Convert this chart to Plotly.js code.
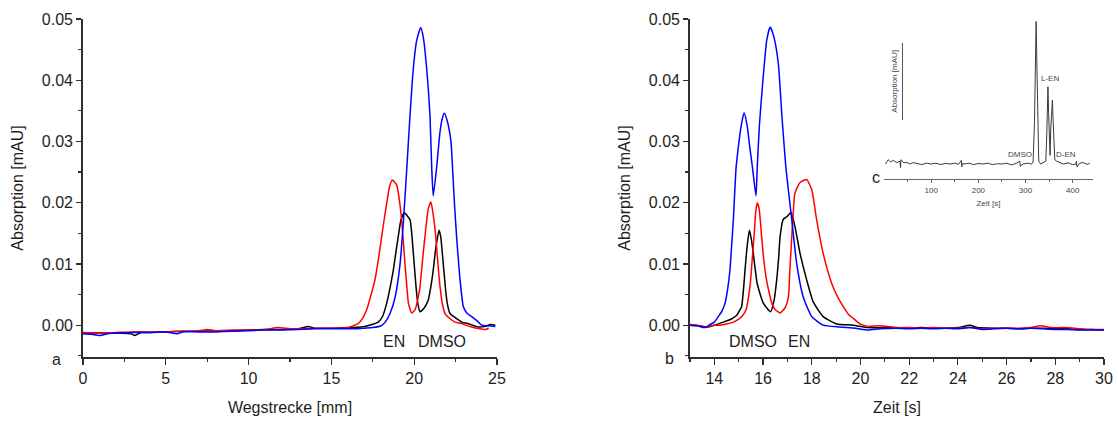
<!DOCTYPE html>
<html>
<head>
<meta charset="utf-8">
<script src="https://cdn.plot.ly/plotly-3.0.1.min.js"></script>
<style>html,body{margin:0;padding:0;background:#fff;}#chart{width:1118px;height:423px;}</style>
</head>
<body>
<div id="chart"></div>
<script>
// ---------- Panel a: Absorption vs Wegstrecke [mm] ----------
const aBlueX = [0,0.5,1.0,1.5,2,3,4,5,5.7,6,7,8,9,10,11,12,13,14,15,16,16.5,17,17.5,18,18.25,18.54,18.85,19.15,19.35,19.55,19.75,19.95,20.15,20.39,20.55,20.75,20.95,21.06,21.15,21.35,21.56,21.7,21.82,22.0,22.22,22.32,22.45,22.56,22.77,22.97,23.2,23.47,23.8,24.08,24.5,24.9];
const aBlueY = [-0.0014,-0.0015,-0.0017,-0.0014,-0.0013,-0.0012,-0.0012,-0.0011,-0.0014,-0.0011,-0.0011,-0.0011,-0.0010,-0.0009,-0.0008,-0.0008,-0.0007,-0.0006,-0.0006,-0.0006,-0.0006,-0.0005,-0.0004,-0.0001,0.0005,0.0019,0.0046,0.0101,0.0170,0.0255,0.0344,0.0420,0.0465,0.0486,0.0470,0.0420,0.0344,0.0256,0.0211,0.0256,0.0316,0.0338,0.0346,0.0333,0.0300,0.0254,0.0190,0.0145,0.0074,0.0030,0.0019,0.0014,0.0007,0.0000,-0.0001,-0.0002];
const aRedX = [0,1,2,3,4,5,6,7,7.5,8,9,10,11,11.8,12.5,13,14,15,16,16.63,16.9,17.13,17.4,17.63,17.85,18.04,18.2,18.34,18.5,18.68,18.94,19.1,19.24,19.44,19.55,19.65,19.85,20.05,20.2,20.35,20.5,20.65,20.85,21.01,21.15,21.3,21.45,21.56,21.7,21.86,22.1,22.46,22.8,23.1,23.47,23.8,24.3,24.5];
const aRedY = [-0.0012,-0.0013,-0.0012,-0.0011,-0.0011,-0.0011,-0.0010,-0.0009,-0.0007,-0.0009,-0.0008,-0.0008,-0.0007,-0.0004,-0.0006,-0.0006,-0.0005,-0.0005,-0.0004,0.0003,0.0012,0.0025,0.0050,0.0074,0.0110,0.0145,0.0175,0.0199,0.0225,0.0237,0.0229,0.0205,0.0172,0.0101,0.0065,0.0036,0.0020,0.0025,0.0040,0.0063,0.0105,0.0145,0.0190,0.0201,0.0180,0.0145,0.0095,0.0063,0.0035,0.0019,0.0012,0.0005,0.0003,0.0000,-0.0003,-0.0005,-0.0007,-0.0005];
const aBlackX = [0,1,2,3,3.1,3.5,4,5,6,7,8,9,10,11,12,13,13.6,14,15,16,16.8,17.3,17.83,18.1,18.34,18.55,18.74,18.9,19.04,19.2,19.4,19.6,19.75,19.85,19.95,20.11,20.22,20.35,20.6,20.85,21.0,21.15,21.3,21.5,21.6,21.7,21.9,22.0,22.16,22.5,22.87,23.3,23.87,24.3,24.6,24.9];
const aBlackY = [-0.0013,-0.0013,-0.0013,-0.0015,-0.0017,-0.0012,-0.0012,-0.0011,-0.0010,-0.0010,-0.0009,-0.0009,-0.0008,-0.0007,-0.0007,-0.0006,-0.0002,-0.0005,-0.0005,-0.0004,-0.0003,0.0000,0.0005,0.0015,0.0036,0.0062,0.0090,0.0120,0.0145,0.0172,0.0183,0.0178,0.0172,0.0150,0.0117,0.0063,0.0035,0.0022,0.0028,0.0041,0.0062,0.0090,0.0125,0.0155,0.0145,0.0117,0.0057,0.0035,0.0019,0.0012,0.0005,0.0002,-0.0003,-0.0002,0.0001,0.0000];

// ---------- Panel b: Absorption vs Zeit [s] ----------
const bBlueX = [13.0,13.3,13.6,13.82,14.0,14.16,14.3,14.44,14.55,14.64,14.71,14.78,14.89,14.98,15.1,15.22,15.35,15.46,15.57,15.71,15.76,15.85,15.99,16.15,16.29,16.45,16.63,16.77,16.94,17.18,17.38,17.65,18.0,18.47,19.16,19.8,20.3,20.8,21.5,22,22.5,23,23.5,24,24.5,25,25.5,26,26.5,27,27.5,28,28.5,29,29.5,30];
const bBlueY = [0.0000,-0.0001,-0.0004,0.0001,0.0005,0.0014,0.0022,0.0036,0.0060,0.0090,0.0130,0.0172,0.0256,0.0289,0.0325,0.0347,0.0325,0.0289,0.0256,0.0211,0.0256,0.0327,0.0398,0.0465,0.0487,0.0470,0.0426,0.0344,0.0256,0.0172,0.0101,0.0046,0.0014,0.0000,-0.0003,-0.0005,-0.0008,-0.0006,-0.0005,-0.0006,-0.0005,-0.0006,-0.0005,-0.0006,-0.0004,-0.0007,-0.0006,-0.0005,-0.0006,-0.0005,-0.0006,-0.0007,-0.0007,-0.0008,-0.0008,-0.0008];
const bRedX = [13.0,13.3,13.55,13.8,14.0,14.23,14.5,14.78,15.0,15.15,15.3,15.4,15.49,15.56,15.63,15.7,15.76,15.84,15.94,16.02,16.12,16.24,16.36,16.5,16.7,16.9,17.04,17.1,17.18,17.25,17.31,17.52,17.79,18.0,18.2,18.47,18.82,19.05,19.3,19.5,19.71,19.98,20.3,20.8,21.5,22,22.5,23,23.5,24,24.5,25,25.5,26,26.5,27,27.4,27.8,28.3,28.8,29.3,29.8,30];
const bRedY = [0.0001,0.0000,-0.0003,-0.0002,0.0000,0.0000,0.0002,0.0005,0.0010,0.0015,0.0025,0.0045,0.0074,0.0110,0.0145,0.0185,0.0200,0.0190,0.0145,0.0110,0.0079,0.0055,0.0036,0.0025,0.0020,0.0028,0.0046,0.0090,0.0145,0.0190,0.0216,0.0233,0.0238,0.0221,0.0172,0.0117,0.0068,0.0047,0.0030,0.0018,0.0011,0.0002,-0.0002,-0.0001,-0.0004,-0.0004,-0.0005,-0.0004,-0.0005,-0.0005,-0.0004,-0.0006,-0.0005,-0.0005,-0.0005,-0.0004,-0.0001,-0.0004,-0.0004,-0.0005,-0.0007,-0.0007,-0.0007];
const bBlackX = [13.0,13.4,13.69,14.0,14.37,14.7,14.92,15.05,15.12,15.2,15.26,15.35,15.44,15.52,15.6,15.76,16.01,16.31,16.45,16.56,16.64,16.7,16.83,16.97,17.15,17.31,17.52,17.79,18.06,18.47,19.02,19.7,20.3,21,21.5,22,22.5,23,23.5,24,24.5,24.8,25.5,26,26.5,27,27.5,28,28.5,29,29.5,30];
const bBlackY = [0.0000,-0.0001,-0.0003,0.0000,0.0005,0.0010,0.0016,0.0025,0.0030,0.0060,0.0090,0.0130,0.0155,0.0140,0.0117,0.0068,0.0036,0.0022,0.0040,0.0074,0.0110,0.0145,0.0173,0.0177,0.0184,0.0161,0.0117,0.0074,0.0038,0.0014,0.0002,0.0000,-0.0004,-0.0004,-0.0005,-0.0005,-0.0004,-0.0005,-0.0005,-0.0004,0.0000,-0.0004,-0.0005,-0.0005,-0.0006,-0.0005,-0.0005,-0.0006,-0.0006,-0.0007,-0.0007,-0.0008];

// ---------- Inset c: Absorption (relative) vs Zeit [s] ----------
const cT = [3,6,9,14,20,27,34,35,36,42,48,55,62,70,80,90,100,110,120,130,140,150,158,164,165,166,172,180,190,200,210,220,230,240,250,260,270,280,288,289,295,305,312,316,319,321,322.5,324,326,328,332,338,343,345,346.5,347.5,349,351,352,353.5,355.5,357,358.5,360,362,366,372,380,390,400,407,408,409,415,422,430,436];
const cA = [0.000,0.020,0.030,0.015,0.025,0.010,0.020,-0.025,0.030,0.008,0.012,0.000,0.010,0.004,-0.004,0.006,0.000,0.006,-0.004,0.004,0.000,0.006,-0.002,0.025,-0.020,0.004,0.000,0.006,-0.004,0.004,0.000,0.006,-0.004,0.002,0.000,0.006,-0.006,0.004,0.020,-0.015,0.000,0.006,0.000,0.010,0.30,0.85,0.99,0.70,0.15,0.02,0.000,0.010,0.020,0.20,0.50,0.537,0.35,0.08,0.06,0.25,0.42,0.444,0.30,0.10,0.03,0.020,0.010,0.000,0.008,-0.004,0.000,0.020,-0.020,0.006,0.010,-0.002,0.004];

// Tick labels
const yTickVals = [0.00,0.01,0.02,0.03,0.04,0.05];
const aXTicks = [0,5,10,15,20,25];
const bXTicks = [14,16,18,20,22,24,26,28,30];
const cXTicks = [100,200,300,400];

const W = 1118, H = 423;
const px = v => v / W;
const py = v => 1 - v / H;
const FONT = 'Liberation Sans, Arial, sans-serif';
const TXT = '#1e1e1e';
const AX = '#2e2e2e';

function tr(x, y, color, xa, ya) {
  return {x: x, y: y, type: 'scatter', mode: 'lines', xaxis: xa, yaxis: ya,
          line: {color: color, width: 1.5, shape: 'spline', smoothing: 0.5},
          hoverinfo: 'skip', showlegend: false};
}
const traces = [
  tr(aBlackX, aBlackY, '#000000', 'x', 'y'),
  tr(aRedX, aRedY, '#ff0000', 'x', 'y'),
  tr(aBlueX, aBlueY, '#0000ff', 'x', 'y'),
  tr(bBlackX, bBlackY, '#000000', 'x2', 'y2'),
  tr(bRedX, bRedY, '#ff0000', 'x2', 'y2'),
  tr(bBlueX, bBlueY, '#0000ff', 'x2', 'y2'),
  {x: cT, y: cA, type: 'scatter', mode: 'lines', xaxis: 'x3', yaxis: 'y3',
   line: {color: '#3a3a3a', width: 1}, hoverinfo: 'skip', showlegend: false},
  // empty trace so that the inset's scale-bar axis gets its own subplot
  {x: [], y: [], type: 'scatter', mode: 'lines', xaxis: 'x4', yaxis: 'y4', hoverinfo: 'skip', showlegend: false}
];

const yRange = [-0.0052, 0.05];
const yDom = [py(357), py(19)];
function yAxis(anchor) {
  return {
    domain: yDom, range: yRange, anchor: anchor,
    tickmode: 'array', tickvals: yTickVals, tickformat: '.2f',
    ticks: 'outside', ticklen: 5, tickwidth: 1.2, tickcolor: AX,
    minor: {dtick: 0.005, tick0: 0, ticks: 'outside', ticklen: 3, tickwidth: 1.2, tickcolor: AX, showgrid: false},
    showline: true, linecolor: AX, linewidth: 1.8,
    showgrid: false, zeroline: false,
    tickfont: {family: FONT, size: 16, color: TXT},
    title: {text: 'Absorption [mAU]', font: {family: FONT, size: 16, color: TXT}, standoff: 14}
  };
}
function xAxis(dom, range, tickvals, minorDtick, title, anchor) {
  return {
    domain: dom, range: range, anchor: anchor,
    tickmode: 'array', tickvals: tickvals,
    ticks: 'outside', ticklen: 6, tickwidth: 1.2, tickcolor: AX,
    minor: {dtick: minorDtick, tick0: 0, ticks: 'outside', ticklen: 3.5, tickwidth: 1.2, tickcolor: AX, showgrid: false},
    showline: true, linecolor: AX, linewidth: 1.8,
    showgrid: false, zeroline: false,
    tickfont: {family: FONT, size: 16, color: TXT},
    title: {text: title, font: {family: FONT, size: 16, color: TXT}, standoff: 16}
  };
}
function paperText(t, x, y, size, color) {
  return {text: t, x: px(x), y: py(y), xref: 'paper', yref: 'paper', showarrow: false,
          xanchor: 'center', yanchor: 'middle', font: {family: FONT, size: size, color: color}};
}
function dataText(t, x, y, xr, yr, size, color) {
  return {text: t, x: x, y: y, xref: xr, yref: yr, showarrow: false,
          xanchor: 'center', yanchor: 'middle', font: {family: FONT, size: size, color: color}};
}

const layout = {
  width: W, height: H,
  margin: {l: 0, r: 0, t: 0, b: 0},
  paper_bgcolor: '#ffffff', plot_bgcolor: 'rgba(0,0,0,0)',
  showlegend: false,
  xaxis: xAxis([px(83), px(497)], [0, 25], aXTicks, 2.5, 'Wegstrecke [mm]', 'y'),
  yaxis: yAxis('x'),
  xaxis2: xAxis([px(690), px(1104)], [13, 30], bXTicks, 1, 'Zeit [s]', 'y2'),
  yaxis2: yAxis('x2'),
  xaxis3: {
    domain: [px(884), px(1093)], range: [0, 443], anchor: 'y3',
    tickmode: 'array', tickvals: cXTicks,
    ticks: 'outside', ticklen: 3, tickwidth: 1, tickcolor: '#666',
    minor: {tickmode: 'linear', tick0: 50, dtick: 100, ticks: 'outside', ticklen: 2, tickwidth: 1, tickcolor: '#666', showgrid: false},
    showline: true, linecolor: '#666', linewidth: 1, showgrid: false, zeroline: false,
    tickfont: {family: FONT, size: 8, color: '#444'},
    title: {text: 'Zeit [s]', font: {family: FONT, size: 8, color: '#444'}, standoff: 6}
  },
  yaxis3: {domain: [py(179.3), py(20)], range: [-0.106, 1.0], anchor: 'x3', visible: false, showgrid: false, zeroline: false},
  xaxis4: {domain: [px(903), px(920)], range: [0, 1], anchor: 'y4', visible: false, showgrid: false, zeroline: false},
  yaxis4: {
    domain: [py(120), py(42.7)], range: [0, 1], anchor: 'x4',
    showline: true, linecolor: '#555', linewidth: 1,
    ticks: '', showticklabels: false, showgrid: false, zeroline: false,
    title: {text: 'Absorption [mAU]', font: {family: FONT, size: 8, color: '#444'}, standoff: 3}
  },
  annotations: [
    dataText('EN', 18.75, -0.0026, 'x', 'y', 16, TXT),
    dataText('DMSO', 21.66, -0.0026, 'x', 'y', 16, TXT),
    dataText('DMSO', 15.6, -0.0027, 'x2', 'y2', 16, TXT),
    dataText('EN', 17.48, -0.0027, 'x2', 'y2', 16, TXT),
    paperText('a', 56, 359, 16, TXT),
    paperText('b', 669, 358, 16, TXT),
    paperText('c', 876, 178, 16, TXT),
    dataText('DMSO', 289, 0.063, 'x3', 'y3', 8, '#444'),
    dataText('L-EN', 352, 0.597, 'x3', 'y3', 8, '#444'),
    dataText('D-EN', 385, 0.063, 'x3', 'y3', 8, '#444')
  ]
};
Plotly.newPlot('chart', traces, layout, {staticPlot: true, displayModeBar: false});
</script>
</body>
</html>
